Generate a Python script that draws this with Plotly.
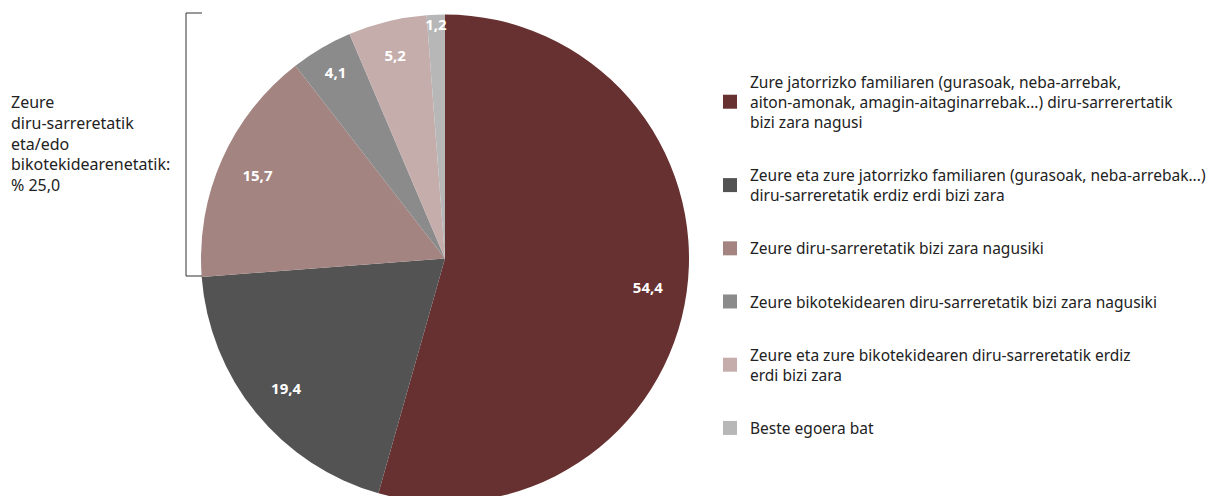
import plotly.graph_objects as go

categories = [
    "Zure jatorrizko familiaren (gurasoak, neba-arrebak,<br>aiton-amonak, amagin-aitaginarrebak...) diru-sarrerertatik<br>bizi zara nagusi",
    "Zeure eta zure jatorrizko familiaren (gurasoak, neba-arrebak...)<br>diru-sarreretatik erdiz erdi bizi zara",
    "Zeure diru-sarreretatik bizi zara nagusiki",
    "Zeure bikotekidearen diru-sarreretatik bizi zara nagusiki",
    "Zeure eta zure bikotekidearen diru-sarreretatik erdiz<br>erdi bizi zara",
    "Beste egoera bat",
]
values = [54.4, 19.4, 15.7, 4.1, 5.2, 1.2]
value_labels = ["54,4", "19,4", "15,7", "4,1", "5,2", "1,2"]
colors = ["#663130", "#535353", "#A38481", "#8B8B8B", "#C5ADAC", "#B7B7B7"]
bracket_text = "Zeure<br>diru-sarreretatik<br>eta/edo<br>bikotekidearenetatik:<br>% 25,0"

FONT = "Noto Sans"
OFF = 8  # page body margin
W, H = 1227 - OFF, 496
T = 5
cx, r = 445 - OFF, 244


def px(x):
    return (x - OFF) / W


def py(y):
    return 1 - (y - OFF - T) / (H - T)


dom = dict(x=[(cx - r) / W, (cx + r) / W], y=[0, 1])

fig = go.Figure()
fig.add_trace(go.Pie(
    labels=categories, values=values,
    textinfo="none",
    marker=dict(colors=colors, line=dict(width=0)),
    sort=False, direction="clockwise", rotation=0,
    showlegend=False, hoverinfo="skip", domain=dom,
))
fig.add_trace(go.Pie(
    labels=categories, values=values, text=value_labels,
    textinfo="text", texttemplate="%{text}",
    textposition="inside", insidetextorientation="horizontal",
    textfont=dict(family=FONT, size=15, color="white", weight="bold"),
    marker=dict(colors=["rgba(0,0,0,0)"] * len(values), line=dict(width=0)),
    hole=0.68,
    sort=False, direction="clockwise", rotation=0,
    showlegend=False, hoverinfo="skip", domain=dom,
))

for i, (cat, col) in enumerate(zip(categories, colors)):
    fig.add_trace(go.Scatter(
        x=[None], y=[None], mode="markers", name=cat,
        marker=dict(symbol="square", size=14, color=col),
        legendgroup=f"g{i}", showlegend=True,
    ))

fig.add_annotation(
    text=bracket_text, xref="paper", yref="paper",
    x=px(9), y=py(143), xanchor="left", yanchor="middle",
    align="left", showarrow=False,
    font=dict(family=FONT, size=16, color="#222222"),
)

x0, x1 = px(186), px(202)
yt, yb = py(13), py(276)
fig.add_shape(type="path", xref="paper", yref="paper",
              path=f"M {x1} {yt} L {x0} {yt} L {x0} {yb} L {x1} {yb}",
              line=dict(color="#333333", width=1))

fig.update_layout(
    width=W, height=H,
    margin=dict(l=0, r=0, t=T, b=0),
    paper_bgcolor="white", plot_bgcolor="white",
    xaxis=dict(visible=False), yaxis=dict(visible=False),
    uniformtext=dict(minsize=15, mode="show"),
    legend=dict(
        x=px(710), y=py(65), xanchor="left", yanchor="top",
        font=dict(family=FONT, size=15.5, color="#222222"),
        tracegroupgap=30, itemclick=False, itemdoubleclick=False,
        bgcolor="rgba(0,0,0,0)",
    ),
)

fig.write_html("out.html")
